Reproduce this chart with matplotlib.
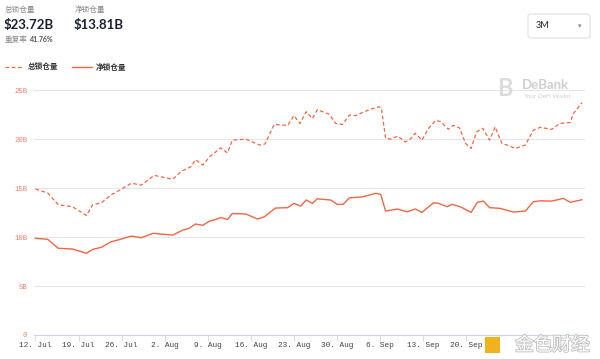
import numpy as np
import pandas as pd
import matplotlib
matplotlib.use("Agg")
import matplotlib.pyplot as plt
import matplotlib.dates as mdates
import matplotlib.patches as mpatches
import matplotlib.patheffects as pe

plt.rcParams["font.family"] = ["Lato", "Noto Sans CJK SC", "DejaVu Sans"]

START = pd.Timestamp("2021-07-12")

# total locked (dashed) — day offset from 12 Jul, value in B
total_days = [0, 2, 3.7, 6, 8.3, 9.3, 10.7, 12.3, 13.7, 15.6, 17.2, 19.3, 22.3, 23.7,
              25.3, 26, 27.2, 28.3, 29.3, 30.1, 31.2, 32, 34.2, 36.4, 37.3, 38.8, 41,
              42, 43, 44, 45, 45.8, 47.7, 48.8, 49.9, 51, 52, 54.2, 55.8, 56.2, 56.9,
              57.7, 58.9, 60.1, 61, 61.7, 62.8, 63.9, 65, 65.8, 67.1, 67.9, 68.9, 69.9,
              70.8, 71.7, 72.7, 73.8, 74.7, 75.8, 76.6, 78, 79.6, 80.9, 82, 83.9, 85.2,
              86.9, 87.4, 88.8]
total_vals = [14.9, 14.5, 13.3, 13.1, 12.2, 13.3, 13.5, 14.3, 14.8, 15.5, 15.3, 16.3, 15.9, 16.7,
              17.2, 17.9, 17.35, 18.2, 18.7, 19.1, 18.6, 19.9, 20.0, 19.4, 19.5, 21.5, 21.4,
              22.4, 21.6, 22.8, 22.1, 23.0, 22.55, 21.6, 21.5, 22.45, 22.4, 23.0, 23.3, 23.2, 20.1,
              20.0, 20.3, 19.7, 20.05, 20.6, 19.9, 21.1, 21.9, 21.8, 21.0, 21.4, 21.15, 19.55,
              19.05, 20.75, 21.1, 19.9, 21.25, 19.55, 19.4, 19.05, 19.4, 20.9, 21.2, 21.0, 21.6,
              21.7, 22.6, 23.72]

# net locked (solid)
net_days = [0, 2, 3.7, 6, 8.3, 9.3, 10.7, 12.3, 14, 15.6, 17.2, 19.1, 22.3, 23.9, 25,
            26, 27.2, 28.3, 29.3, 30.1, 31.2, 32, 34.2, 36.1, 37.2, 39, 41, 42, 43.1, 44,
            45, 45.8, 48, 49, 50, 51, 53.1, 55.3, 56.1, 56.9, 58.8, 60.4, 61.7, 62.8,
            64.7, 65.5, 66.9, 67.7, 69, 70.8, 71.8, 72.8, 73.8, 75.5, 77.7, 79.6, 80.9,
            82, 83.9, 85.8, 86.9, 88.8]
net_vals = [9.87, 9.77, 8.85, 8.78, 8.34, 8.74, 8.95, 9.52, 9.8, 10.1, 9.93, 10.38, 10.2, 10.7, 10.9,
            11.33, 11.2, 11.63, 11.8, 12.0, 11.8, 12.4, 12.35, 11.84, 12.07, 12.96, 13.0, 13.44, 13.16, 13.78,
            13.44, 13.9, 13.78, 13.34, 13.34, 14.0, 14.1, 14.46, 14.36, 12.65, 12.86, 12.58, 12.86, 12.52,
            13.5, 13.44, 13.1, 13.34, 13.1, 12.52, 13.54, 13.67, 13.0, 12.93, 12.55, 12.65, 13.6,
            13.7, 13.67, 13.95, 13.54, 13.81]

y_ticks = [0, 5, 10, 15, 20, 25]
y_labels = ["0", "5B", "10B", "15B", "20B", "25B"]
# 27 Sep is hidden under the watermark in the original
x_ticks = ["2021-07-12", "2021-07-19", "2021-07-26", "2021-08-02", "2021-08-09",
           "2021-08-16", "2021-08-23", "2021-08-30", "2021-09-06", "2021-09-13",
           "2021-09-20"]

LINE = "#ee6744"
LABEL_RED = "#f0806a"
GRID = "#e6e6e6"


def to_dates(days):
    return [START + pd.Timedelta(days=d) for d in days]


fig = plt.figure(figsize=(6.0, 3.59), dpi=100)
ax = fig.add_axes([0.057, 0.0669, 0.918, 0.682])

ax.plot(to_dates(total_days), total_vals, color=LINE, lw=0.9, ls=(0, (3, 2)))
ax.plot(to_dates(net_days), net_vals, color=LINE, lw=1.0)

ax.set_ylim(0, 25)
ax.set_xlim(START - pd.Timedelta(days=0.2), START + pd.Timedelta(days=89.3))
ax.set_yticks(y_ticks)
ax.set_yticklabels(y_labels)
ax.set_xticks(pd.to_datetime(x_ticks))
ax.xaxis.set_major_formatter(mdates.DateFormatter("%-d. %b"))
for lbl in ax.get_xticklabels():
    lbl.set_fontfamily("Liberation Mono")
    lbl.set_fontsize(5.6)
    lbl.set_color("#444444")
for lbl in ax.get_yticklabels():
    lbl.set_fontfamily("Liberation Mono")
    lbl.set_fontsize(5.2)
    lbl.set_color(LABEL_RED)
ax.tick_params(axis="y", length=0, pad=5)
ax.tick_params(axis="x", length=4, width=0.6, color="#ccd6eb", pad=1)
ax.grid(axis="y", color=GRID, lw=0.8)
ax.set_axisbelow(True)
for s in ["top", "right", "left"]:
    ax.spines[s].set_visible(False)
ax.spines["bottom"].set_color("#ccd6eb")
ax.spines["bottom"].set_linewidth(0.8)

# header
cjk = ["Noto Sans CJK SC", "DejaVu Sans"]
fig.text(5 / 600, 1 - 10 / 359, "总锁仓量", fontsize=5.5, color="#888888", family=cjk, va="center")
fig.text(75 / 600, 1 - 10 / 359, "净锁仓量", fontsize=5.5, color="#888888", family=cjk, va="center")
fig.text(4 / 600, 1 - 25 / 359, "$23.72B", fontsize=9.5, color="#1c1f2e", weight="bold", va="center")
fig.text(74 / 600, 1 - 25 / 359, "$13.81B", fontsize=9.5, color="#1c1f2e", weight="bold", va="center")
fig.text(5 / 600, 1 - 40 / 359, "重复率", fontsize=5.5, color="#888888", family=cjk, va="center")
fig.text(30 / 600, 1 - 40 / 359, "41.76%", fontsize=5, color="#555555", weight="bold", va="center")

# range selector
box = mpatches.FancyBboxPatch((528 / 600, 1 - 38 / 359), 62 / 600, 24 / 359,
                              boxstyle="round,pad=0,rounding_size=0.006",
                              transform=fig.transFigure, fc="white", ec="#dddddd", lw=0.7)
fig.patches.append(box)
fig.text(536 / 600, 1 - 26 / 359, "3M", fontsize=6.5, color="#222222", va="center")
fig.text(578 / 600, 1 - 26 / 359, "▾", fontsize=5, color="#888888", va="center", family="DejaVu Sans")

# legend
fig.add_artist(plt.Line2D([5 / 600, 22 / 600], [1 - 67 / 359] * 2, color=LINE, lw=0.9, ls=(0, (3, 2))))
fig.text(28 / 600, 1 - 67 / 359, "总锁仓量", fontsize=5.5, color="#333333", family=cjk, va="center", weight="bold")
fig.add_artist(plt.Line2D([72 / 600, 92 / 600], [1 - 67 / 359] * 2, color=LINE, lw=1.0))
fig.text(96 / 600, 1 - 67 / 359, "净锁仓量", fontsize=5.5, color="#333333", family=cjk, va="center", weight="bold")

# DeBank watermark
fig.text(497 / 600, 1 - 89 / 359, "B", fontsize=17, color="#dcdcdc", weight="bold", va="center")
fig.text(522 / 600, 1 - 85 / 359, "DeBank", fontsize=9.5, color="#cfcfcf", weight="bold", va="center")
fig.text(523 / 600, 1 - 97 / 359, "Your DeFi Wallet", fontsize=4.5, color="#cfcfcf", va="center")

# 金色财经 watermark
icon = mpatches.Rectangle((485 / 600, 1 - 353 / 359), 15 / 600, 16 / 359,
                          transform=fig.transFigure, fc="#f2b21b", ec="none")
fig.patches.append(icon)
fig.text(515 / 600, 1 - 345 / 359, "金色财经", fontsize=13.5, color="white", family=cjk, va="center",
         path_effects=[pe.withStroke(linewidth=1.2, foreground="#bdbdbd")])

fig.savefig("out.png", dpi=100)
